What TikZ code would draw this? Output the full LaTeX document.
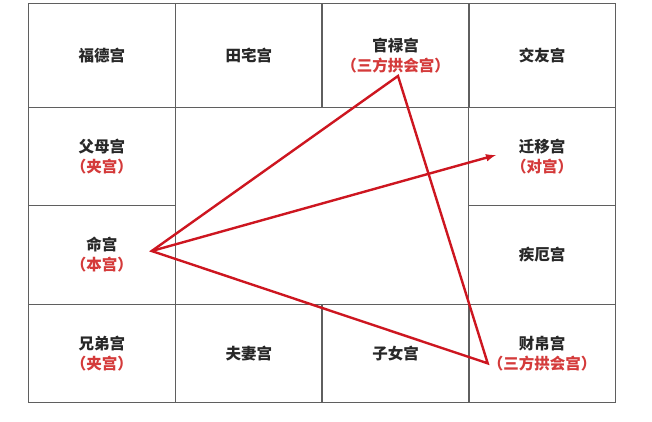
\documentclass[tikz,border=0pt]{standalone}
\usepackage{fontspec}
\setmainfont{Noto Sans CJK SC}
\usepackage{xcolor}
\usetikzlibrary{shapes,arrows,positioning,calc}
\definecolor{gridgray}{RGB}{95,95,95}
\definecolor{textdark}{RGB}{40,40,40}
\definecolor{notered}{RGB}{212,58,58}
\definecolor{linered}{RGB}{205,22,32}

\tikzset{
  cell/.style={draw=gridgray, line width=1.1pt, rectangle, minimum width=147.4pt, minimum height=98.2pt, inner sep=0pt, align=center, text=textdark, font=\fontsize{15.5}{20}\bfseries\selectfont},
  tall/.style={minimum height=104.4pt},
  redline/.style={linered, line width=2.4pt, line join=miter}
}
\newcommand{\palsub}[1]{\\\textcolor{notered}{（#1）}}

\begin{document}
\begin{tikzpicture}[x=1pt, y=-1pt]
	\useasboundingbox (0,0) rectangle (652,421);
	% Top row
	\node[cell, tall] (fude) at (101.75,55.5) {福德宫};
	\node[cell, tall] (tianzhai) at (248.8,55.5) {田宅宫};
	\node[cell, tall] (guanlu) at (395.6,55.5) {官禄宫\palsub{三方拱会宫}};
	\node[cell, tall] (jiaoyou) at (542.2,55.5) {交友宫};
	
	% Side columns
	\node[cell] (fumu) at (101.75,156.8) {父母宫\palsub{夹宫}};
	\node[cell] (ming) at (101.75,255) {命宫\palsub{本宫}};
	\node[cell] (qianyi) at (542.2,156.8) {迁移宫\palsub{对宫}};
	\node[cell] (jie) at (542.2,255) {疾厄宫};
	
	% Bottom row
	\node[cell] (xiongdi) at (101.75,353.2) {兄弟宫\palsub{夹宫}};
	\node[cell] (fuqi) at (248.8,353.2) {夫妻宫};
	\node[cell] (zinv) at (395.6,353.2) {子女宫};
	\node[cell] (caibo) at (542.2,353.2) {财帛宫\palsub{三方拱会宫}};
	
	% Triangle and arrow
	\coordinate (benpt) at (151.7,251);
	\coordinate (guanpt) at (398,76);
	\coordinate (caipt) at (487.7,363.3);
	\coordinate (duipt) at (496,155);
	\draw[redline] (benpt) -- (guanpt) -- (caipt) -- cycle;
	\draw[redline, -latex] (benpt) -- (duipt);
\end{tikzpicture}
\end{document}
